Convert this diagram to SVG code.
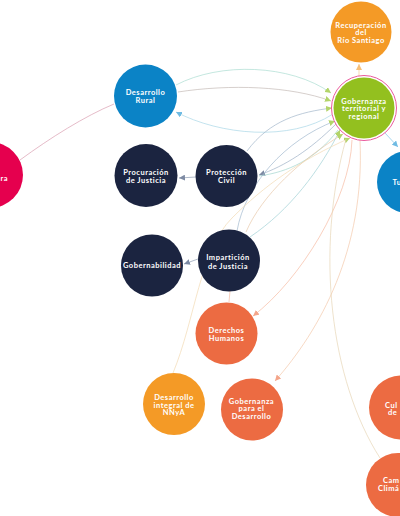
<svg xmlns="http://www.w3.org/2000/svg" width="400" height="516" viewBox="0 0 400 516">
<style>
.t{font-family:Lato,"Open Sans",sans-serif;font-weight:700;font-size:7.5px;fill:#fff;text-anchor:middle;letter-spacing:0.5px}
.e{fill:none;stroke-width:0.85;stroke-opacity:0.8}
.navy{fill:#1b2440}
.blue{fill:#0b83c6}
.green{fill:#93c01f}
.orange{fill:#f49a26}
.salmon{fill:#ec6b42}
.pink{fill:#e5004e}
</style>
<defs>
<marker id="aG" viewBox="0 0 10 10" refX="10" refY="5" markerWidth="6" markerHeight="6" markerUnits="userSpaceOnUse" orient="auto"><path d="M0,0L10,5L0,10z" fill="#b3d46a"/></marker>
<marker id="aB" viewBox="0 0 10 10" refX="10" refY="5" markerWidth="6" markerHeight="6" markerUnits="userSpaceOnUse" orient="auto"><path d="M0,0L10,5L0,10z" fill="#6fbbe3"/></marker>
<marker id="aN" viewBox="0 0 10 10" refX="10" refY="5" markerWidth="6" markerHeight="6" markerUnits="userSpaceOnUse" orient="auto"><path d="M0,0L10,5L0,10z" fill="#7d8aa3"/></marker>
<marker id="aS" viewBox="0 0 10 10" refX="10" refY="5" markerWidth="6" markerHeight="6" markerUnits="userSpaceOnUse" orient="auto"><path d="M0,0L10,5L0,10z" fill="#f4a58a"/></marker>
<marker id="aO" viewBox="0 0 10 10" refX="10" refY="5" markerWidth="6" markerHeight="6" markerUnits="userSpaceOnUse" orient="auto"><path d="M0,0L10,5L0,10z" fill="#f6c07a"/></marker>
</defs>
<rect width="400" height="516" fill="#fff"/>
<g id="connectors">
<path class="e" d="M20,160 C50,138 85,116 114,104" stroke="#d99aae"/>
<path class="e" d="M359,76 L359,64" stroke="#f6c98f" marker-end="url(#aO)"/>
<path class="e" d="M176,85 C220,62 290,64 331,93" stroke="#a8dccf" marker-end="url(#aG)"/>
<path class="e" d="M178,92 C230,84 290,86 331,101" stroke="#c2b8b4" marker-end="url(#aG)"/>
<path class="e" d="M333,114 C290,142 220,135 176,112" stroke="#a6d6e6" marker-end="url(#aB)"/>
<path class="e" d="M247,151 C270,120 300,112 332,108" stroke="#9fb3c8" marker-end="url(#aG)"/>
<path class="e" d="M336,124 C310,150 285,166 259,175" stroke="#9aaec4" marker-end="url(#aN)"/>
<path class="e" d="M338,130 C315,160 288,172 259,176" stroke="#9fd4cc"/>
<path class="e" d="M196,177 L179,178" stroke="#8a98b0" marker-end="url(#aN)"/>
<path class="e" d="M198,259 L184,264" stroke="#8a98b0" marker-end="url(#aN)"/>
<path class="e" d="M237,231 C245,185 285,140 335,121" stroke="#9fb6cc" marker-end="url(#aG)"/>
<path class="e" d="M250,237 C290,210 320,170 340,130" stroke="#9dcfd4" marker-end="url(#aG)"/>
<path class="e" d="M246,232 C262,195 300,160 343,134" stroke="#e8c7a8" marker-end="url(#aG)"/>
<path class="e" d="M173,373 C195,320 200,250 232,218 S300,160 350,138" stroke="#f1d9b0" marker-end="url(#aG)"/>
<path class="e" d="M352,140 C350,200 300,280 253,316" stroke="#f6b9a0" marker-end="url(#aS)"/>
<path class="e" d="M360,140 C365,250 320,330 275,381" stroke="#f3c6a8" marker-end="url(#aS)"/>
<path class="e" d="M346,139 C315,250 330,380 380,458" stroke="#e6d4b4"/>
<path class="e" d="M385,133 L398,147" stroke="#7fc4e8" marker-end="url(#aB)"/>
<path class="e" d="M230,291 L229,302" stroke="#f5b9a0"/>
</g>
<g id="n-rio"><circle cx="361" cy="32" r="30.5" class="orange"/><text class="t" x="361" y="27.5">Recuperación</text><text class="t" x="361" y="35">del</text><text class="t" x="361" y="42.5">Río Santiago</text></g>
<g id="n-gobterr"><circle cx="364" cy="108" r="32.5" fill="#fff" stroke="#ea5a9c" stroke-width="1"/><circle cx="364" cy="108" r="30.5" class="green"/><text class="t" x="364" y="103.5">Gobernanza</text><text class="t" x="364" y="111">territorial y</text><text class="t" x="364" y="118.5">regional</text></g>
<g id="n-rural"><circle cx="145.5" cy="96" r="31.5" class="blue"/><text class="t" x="145.5" y="95">Desarrollo</text><text class="t" x="145.5" y="103">Rural</text></g>
<g id="n-pink"><circle cx="-10" cy="175" r="33" class="pink"/><text class="t" x="8" y="180.5" style="text-anchor:end">ra</text></g>
<g id="n-procur"><circle cx="146" cy="175.5" r="31.5" class="navy"/><text class="t" x="146" y="174.5">Procuración</text><text class="t" x="146" y="182.5">de Justicia</text></g>
<g id="n-proteccion"><circle cx="226.5" cy="176" r="31" class="navy"/><text class="t" x="226.5" y="175">Protección</text><text class="t" x="226.5" y="183">Civil</text></g>
<g id="n-gobernab"><circle cx="152" cy="265.5" r="31" class="navy"/><text class="t" x="152" y="268">Gobernabilidad</text></g>
<g id="n-impart"><circle cx="229" cy="260.5" r="31" class="navy"/><text class="t" x="228" y="259.5">Impartición</text><text class="t" x="228" y="268.5">de Justicia</text></g>
<g id="n-ddhh"><circle cx="226.5" cy="333.5" r="31" class="salmon"/><text class="t" x="226.5" y="332.5">Derechos</text><text class="t" x="226.5" y="340.5">Humanos</text></g>
<g id="n-nnya"><circle cx="174" cy="404" r="31" class="orange"/><text class="t" x="174" y="400">Desarrollo</text><text class="t" x="174" y="407.5">integral de</text><text class="t" x="174" y="415">NNyA</text></g>
<g id="n-gobdes"><circle cx="252" cy="409.5" r="31" class="salmon"/><text class="t" x="251.5" y="403.5">Gobernanza</text><text class="t" x="251.5" y="411">para el</text><text class="t" x="251.5" y="418.5">Desarrollo</text></g>
<g id="n-tu"><circle cx="408" cy="182" r="31" class="blue"/><text class="t" x="392.5" y="184.5" style="text-anchor:start">Tu</text></g>
<g id="n-cul"><circle cx="401" cy="407.5" r="32" class="salmon"/><text class="t" x="385" y="407.5" style="text-anchor:start">Cul</text><text class="t" x="388" y="415" style="text-anchor:start">de</text></g>
<g id="n-cam"><circle cx="398" cy="485" r="32" class="salmon"/><text class="t" x="383" y="482.5" style="text-anchor:start">Cam</text><text class="t" x="378" y="490.5" style="text-anchor:start">Climá</text></g>
</svg>
